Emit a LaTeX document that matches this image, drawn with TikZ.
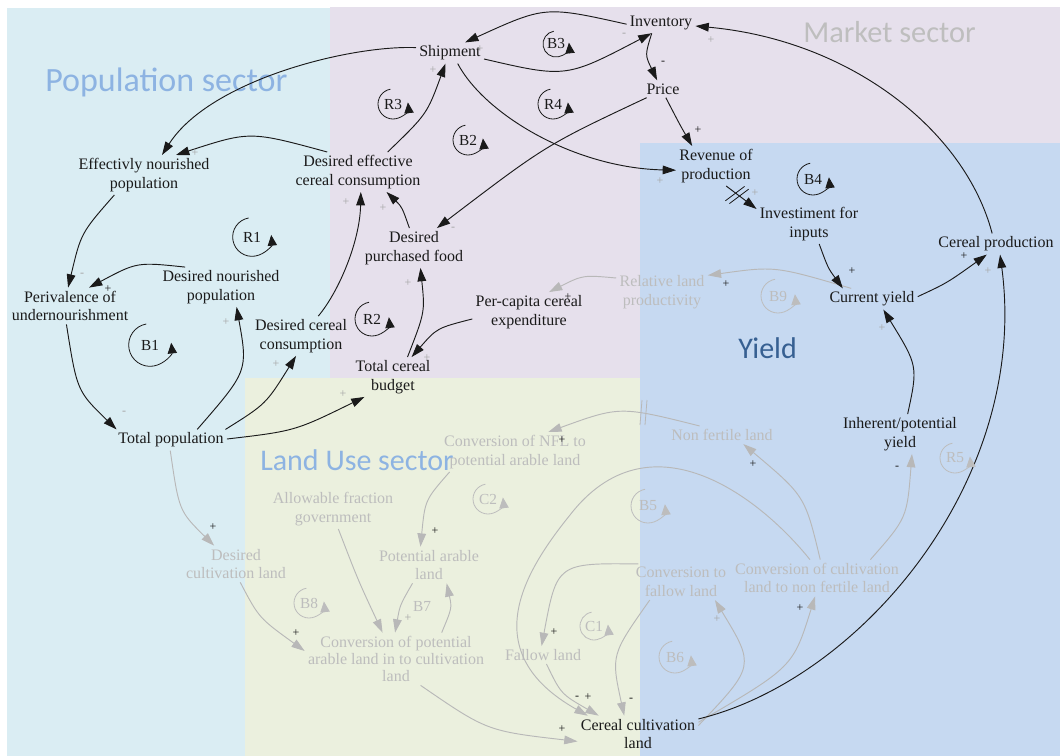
\documentclass[tikz,border=0pt]{standalone}
\usepackage{fontspec}
\setmainfont{Liberation Serif}
\newfontfamily\nodefont{Liberation Serif}
\newfontfamily\secfont{Carlito}
\usetikzlibrary{arrows.meta}
\definecolor{popbg}{HTML}{DAEDF3}
\definecolor{mktbg}{HTML}{E6E0EC}
\definecolor{yldbg}{HTML}{C6D9F1}
\definecolor{landbg}{HTML}{EBF0DE}
\definecolor{seclblue}{HTML}{8DB3E2}
\definecolor{secdblue}{HTML}{376092}
\definecolor{secgray}{HTML}{BEBEBE}
\definecolor{gtext}{HTML}{BDBDBD}
\definecolor{gline}{HTML}{B8B8B8}
\definecolor{gsign}{HTML}{A6A6A6}
\definecolor{ink}{HTML}{1A1A1A}
\tikzset{
 lbl/.style={align=center, inner sep=1pt, outer sep=1.5pt, text=ink, font=\nodefont\fontsize{12}{14}\selectfont},
 glbl/.style={lbl, text=gtext},
 lnk/.style={draw=ink, line width=0.7pt, -{Triangle[length=10pt,width=6.5pt]}},
 glnk/.style={draw=gline, line width=0.7pt, -{Triangle[length=10pt,width=6.5pt]}},
 sgn/.style={inner sep=0pt, font=\nodefont\fontsize{9}{10}\selectfont, text=ink},
 gsgn/.style={sgn, text=gsign},
 looptxt/.style={inner sep=0pt, font=\nodefont\fontsize{11.5}{12}\selectfont},
 sec/.style={inner sep=0pt, anchor=base west},
 delaymk/.style={line width=0.6pt},
}
\newcommand\loopmk[6]{%
 \node[looptxt, text=#6] (#1) at (#2,#3) {#4};
 \draw[#6, line width=0.6pt, -{Triangle[length=8pt,width=7pt]}] (#1.center) ++(100:#5pt) arc[start angle=100, end angle=366, radius=#5pt];
}
\begin{document}
\begin{tikzpicture}[x=0.75pt,y=0.75pt]
\useasboundingbox (0,0) rectangle (1060,-756);
\fill[white] (0,0) rectangle (1060,-756);
% sectors
\fill[popbg] (7,-8) rectangle (330,-756);
\fill[mktbg] (330,-7) rectangle (1060,-379);
\fill[landbg] (245,-378) rectangle (640,-756);
\fill[yldbg] (640,-143) rectangle (1060,-756);
\node[sec, text=seclblue, font=\secfont\fontsize{25.5}{29}\selectfont] (secpop) at (45,-92) {Population sector};
\node[sec, text=secgray, font=\secfont\fontsize{22.8}{26}\selectfont] (secmkt) at (803,-43) {Market sector};
\node[sec, text=seclblue, font=\secfont\fontsize{22.5}{26}\selectfont] (secland) at (260,-470) {Land Use sector};
\node[sec, text=secdblue, font=\secfont\fontsize{22.5}{26}\selectfont] (secyld) at (738,-358) {Yield};

% gray nodes
\node[glbl] (rlp) at (662,-292) {Relative land\\productivity};
\node[glbl] (cnfl) at (515,-452) {Conversion of NFL to\\potential arable land};
\node[glbl] (nfl) at (722,-435) {Non fertile land};
\node[glbl] (afg) at (333,-509) {Allowable fraction\\government};
\node[glbl] (dcl) at (236,-564) {Desired\\cultivation land};
\node[glbl] (pal) at (429,-565) {Potential arable\\land};
\node[glbl, font=\nodefont\fontsize{12}{13}\selectfont] (cpa) at (396,-659) {Conversion of potential\\arable land in to cultivation\\land};
\node[glbl] (fl) at (543,-655) {Fallow land};
\node[glbl] (ctf) at (681,-582) {Conversion to\\fallow land};
\node[glbl] (cnf) at (817,-578) {Conversion of cultivation\\land to non fertile land};

% black nodes
\node[lbl] (inv) at (661,-23) {Inventory};
\node[lbl] (ship) at (450,-53) {Shipment};
\node[lbl] (price) at (663,-89) {Price};
\node[lbl] (eff) at (144,-175) {Effectivly nourished\\population};
\node[lbl] (dec) at (358,-172) {Desired effective\\cereal consumption};
\node[lbl] (rev) at (716,-166) {Revenue of\\production};
\node[lbl] (invest) at (809,-224) {Investiment for\\inputs};
\node[lbl] (cprod) at (996,-244) {Cereal production};
\node[lbl] (dpf) at (414,-248) {Desired\\purchased food};
\node[lbl] (dnp) at (221,-287) {Desired nourished\\population};
\node[lbl] (per) at (70,-306) {Perivalence of\\undernourishment};
\node[lbl] (dcc) at (301,-336) {Desired cereal\\consumption};
\node[lbl] (pce) at (529,-312) {Per-capita cereal\\expenditure};
\node[lbl] (cy) at (872,-299) {Current yield};
\node[lbl] (tcb) at (393,-377) {Total cereal\\budget};
\node[lbl] (tp) at (171,-440) {Total population};
\node[lbl] (iy) at (900,-434) {Inherent/potential\\yield};
\node[lbl] (ccl) at (638,-734) {Cereal cultivation\\land};

% gray links
\coordinate (w35) at (570,-515);
\draw[glnk] (tp.266) .. controls (179,-511) .. (dcl.140);
\draw[glnk] (dcl.283) .. controls (259,-618) .. (cpa.175);
\draw[glnk] (afg.285) .. controls (358,-580) .. (cpa.117);
\draw[glnk] (pal.228) .. controls (400,-605) .. (cpa.92);
\draw[glnk] (cpa.30) .. controls (452,-608) .. (pal.314);
\draw[glnk] (cnfl.197) .. controls (425,-500) .. (pal.115);
\draw[glnk] (nfl.158) .. controls (620,-406) .. (cnfl.31);
\draw[glnk] (cnf.80) .. controls (805,-496) .. (nfl.337);
\draw[glnk] (cpa.313) .. controls (487,-731) .. (ccl.187);
\draw[glnk] (cnf.111) .. controls (758,-495) and (649,-413) .. (w35) .. controls (524,-572) and (475,-652) .. (ccl.160);
\draw[glnk] (fl.291) .. controls (561,-694) .. (ccl.155);
\draw[glnk] (ctf.157) .. controls (557,-563) .. (fl.99);
\draw[glnk] (ctf.210) .. controls (611,-655) .. (ccl.127);
\draw[glnk] (ccl.8) .. controls (755,-666) .. (ctf.332);
\draw[glnk] (ccl.11) .. controls (793,-667) .. (cnf.264);
\draw[glnk] (cnf.19) .. controls (907,-518) .. (iy.301);
\draw[glnk] (cy.153) .. controls (775,-266) .. (rlp.20);
\draw[glnk] (rlp.163) .. controls (583,-275) .. (pce.45);
\draw[gline, delaymk] (642,-400) -- (640,-425);
\draw[gline, delaymk] (647,-400) -- (645,-425);

% black links
\draw[lnk] (inv.182) .. controls (545,-6) .. (ship.35);
\draw[lnk] (ship.350) .. controls (566,-78) .. (inv.227);
\draw[lnk] (inv.228) .. controls (645,-55) .. (price.124);
\draw[lnk] (ship.306) .. controls (485,-115) and (575,-168) .. (rev.186);
\draw[lnk] (ship.171) .. controls (350,-45) and (210,-80) .. (eff.48);
\draw[lnk] (dec.34) .. controls (427,-114) .. (ship.247);
\draw[lnk] (dec.147) .. controls (250,-131) .. (eff.32);
\draw[lnk] (price.208) .. controls (546,-145) .. (dpf.41);
\draw[lnk] (price.288) .. controls (680,-125) .. (rev.140);
\draw[lnk] (rev.297) -- (invest.164);
\draw[ink, delaymk] (725.4,-200.8) -- (744.6,-186.4);
\draw[ink, delaymk] (729.4,-203.6) -- (748.6,-189.2);
\draw[lnk] (invest.297) .. controls (828,-268) .. (cy.160);
\draw[lnk] (cy.3) .. controls (947,-283) .. (cprod.229);
\draw[lnk] (cprod.110) .. controls (965,-130) and (850,-40) .. (inv.355);
\draw[lnk] (ccl.14) .. controls (860,-680) and (1030,-480) .. (cprod.291);
\draw[lnk] (iy.69) .. controls (918,-366) .. (cy.317);
\draw[lnk] (dpf.103) .. controls (402,-207) .. (dec.325);
\draw[lnk] (dcc.49) .. controls (340,-290) and (360,-240) .. (dec.278);
\draw[lnk] (tcb.54) .. controls (425,-312) .. (dpf.288);
\draw[lnk] (pce.187) .. controls (437,-328) .. (tcb.47);
\draw[lnk] (tp.1) .. controls (295,-431) .. (tcb.215);
\draw[lnk] (tp.11) .. controls (266,-404) .. (dcc.256);
\draw[lnk] (tp.22) .. controls (248,-371) .. (dnp.308);
\draw[lnk] (dnp.151) .. controls (137,-262) .. (per.44);
\draw[lnk] (eff.214) .. controls (81,-233) .. (per.96);
\draw[lnk] (per.259) .. controls (77,-391) .. (tp.169);

% loops
\loopmk{lB3}{556}{-44}{B3}{9.75}{ink}
\loopmk{lR3}{393}{-104}{R3}{11.25}{ink}
\loopmk{lR4}{553}{-104}{R4}{11.25}{ink}
\loopmk{lB2}{468}{-140}{B2}{11.25}{ink}
\loopmk{lB4}{813}{-179}{B4}{12}{ink}
\loopmk{lR1}{252}{-237}{R1}{14.5}{ink}
\loopmk{lB1}{150}{-345}{B1}{16}{ink}
\loopmk{lR2}{372}{-319}{R2}{12.75}{ink}
\loopmk{lB9}{778}{-296}{B9}{12.75}{gtext}
\loopmk{lR5}{955}{-458}{R5}{11.25}{gtext}
\loopmk{lC2}{488}{-499}{C2}{11.25}{gtext}
\loopmk{lB5}{648}{-506}{B5}{12.75}{gtext}
\loopmk{lB8}{309}{-603}{B8}{11.25}{gtext}
\loopmk{lC1}{594}{-626}{C1}{10.5}{gtext}
\loopmk{lB6}{675}{-657}{B6}{12}{gtext}
\node[looptxt, text=gtext] (lB7) at (422,-606) {B7};

% polarity signs
\foreach \x/\y/\s [count=\i] in {480/49/+, 624/35/-, 711/40/+, 433/70/+, 195/153/+, 660/181/+, 453/229/-, 346/202/+, 383/208/+, 755/193/+, 988/271/+, 882/328/+, 408/283/+, 427/358/+, 343/394/+, 276/364/+, 226/322/+, 82/275/-, 124/413/-, 408/618/+, 717/619/+}
  \node[gsgn] (gs\i) at (\x,-\y) {\s};
\foreach \x/\y/\s [count=\i] in {663/63/-, 698/130/+, 852/271/+, 964/256/+, 726/284/+, 568/297/+, 108/289/+, 213/527/+, 296/633/+, 435/531/+, 562/440/+, 753/464/+, 562/729/+, 577/698/-, 588/697/+, 631/700/-, 554/632/+, 800/608/+, 897/468/-}
  \node[sgn] (bs\i) at (\x,-\y) {\s};
\end{tikzpicture}
\end{document}
